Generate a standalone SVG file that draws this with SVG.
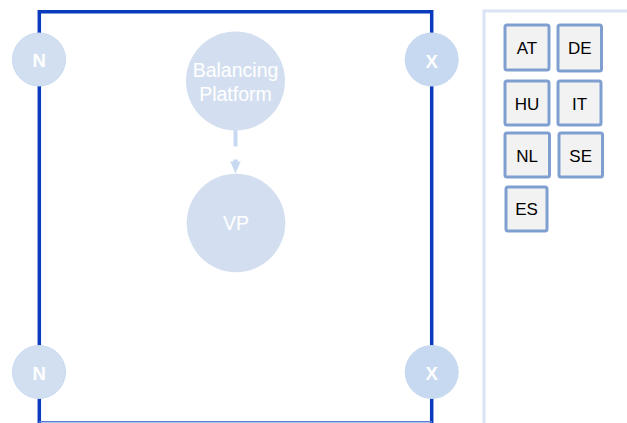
<svg xmlns="http://www.w3.org/2000/svg" width="627" height="423" viewBox="0 0 627 423">
  <style>
    .frame { fill: none; stroke: #0b3bbd; stroke-width: 3.5; }
    .base { fill: none; stroke: #5b80d8; stroke-width: 1.5; }
    .node-n { fill: #d2dff0; stroke: #c8daf2; stroke-width: 1; }
    .node-x { fill: #c6d9f0; }
    .node-big { fill: #d3dff0; }
    .lbl-w { fill: #ffffff; font-family: "Liberation Sans", Arial, sans-serif; text-anchor: middle; }
    .lbl-b { font-weight: bold; font-size: 18.5px; }
    .panel { fill: #ffffff; stroke: #dae3f3; stroke-width: 3; }
    .cc rect { fill: #f2f2f2; stroke: #7f9fd0; stroke-width: 3; }
    .cc text { fill: #000000; font-family: "Liberation Sans", Arial, sans-serif; font-size: 17px; text-anchor: middle; }
    .link { stroke: #c6d9f0; stroke-width: 4; fill: none; }
    .head { fill: #c6d9f0; }
  </style>

  <!-- country panel -->
  <rect class="panel" x="484" y="11" width="160" height="420"/>

  <!-- network frame -->
  <path class="frame" d="M39.3,423 V11.7 H431.7 V423"/>
  <line class="base" x1="39" y1="421.8" x2="432" y2="421.8"/>

  <!-- connectors -->
  <g id="connectors">
    <line class="link" x1="235.5" y1="129" x2="235.5" y2="146.5"/>
    <rect class="head" x="233.3" y="159.5" width="4.4" height="3"/>
    <polygon class="head" points="230.3,161.5 240.7,161.5 235.5,173.5"/>
  </g>

  <!-- boundary nodes -->
  <g id="n-top">
    <circle class="node-n" cx="39" cy="59.5" r="26.5"/>
    <text class="lbl-w lbl-b" x="39.2" y="67.3">N</text>
  </g>
  <g id="n-bottom">
    <circle class="node-n" cx="39" cy="372" r="26.5"/>
    <text class="lbl-w lbl-b" x="39.2" y="379.5">N</text>
  </g>
  <g id="x-top">
    <circle class="node-x" cx="431.7" cy="59.5" r="27"/>
    <text class="lbl-w lbl-b" x="431.7" y="67.8">X</text>
  </g>
  <g id="x-bottom">
    <circle class="node-x" cx="431.7" cy="372" r="27"/>
    <text class="lbl-w lbl-b" x="431.7" y="380">X</text>
  </g>

  <!-- platform nodes -->
  <g id="balancing-platform">
    <circle class="node-big" cx="235.5" cy="81" r="49.5"/>
    <text class="lbl-w" x="235.5" y="77.3" font-size="19.5">Balancing</text>
    <text class="lbl-w" x="235.5" y="100.7" font-size="19.5">Platform</text>
  </g>
  <g id="vp">
    <circle class="node-big" cx="236" cy="223" r="49.3"/>
    <text class="lbl-w" x="236" y="230" font-size="19.5">VP</text>
  </g>

  <!-- country codes -->
  <g id="at" class="cc"><rect x="505" y="25" width="44" height="45" rx="2"/><text x="527" y="54">AT</text></g>
  <g id="de" class="cc"><rect x="558" y="25" width="43.5" height="46" rx="2"/><text x="579.7" y="54.3">DE</text></g>
  <g id="hu" class="cc"><rect x="505" y="81" width="44" height="44" rx="2"/><text x="527" y="109.5">HU</text></g>
  <g id="it" class="cc"><rect x="558" y="81" width="43" height="44" rx="2"/><text x="579.5" y="109.5">IT</text></g>
  <g id="nl" class="cc"><rect x="505" y="133" width="44.5" height="44" rx="2"/><text x="527.2" y="161.7">NL</text></g>
  <g id="se" class="cc"><rect x="559" y="133" width="43.5" height="44" rx="2"/><text x="580.7" y="161.7">SE</text></g>
  <g id="es" class="cc"><rect x="506" y="187" width="41" height="44" rx="2"/><text x="526.5" y="215">ES</text></g>
</svg>
